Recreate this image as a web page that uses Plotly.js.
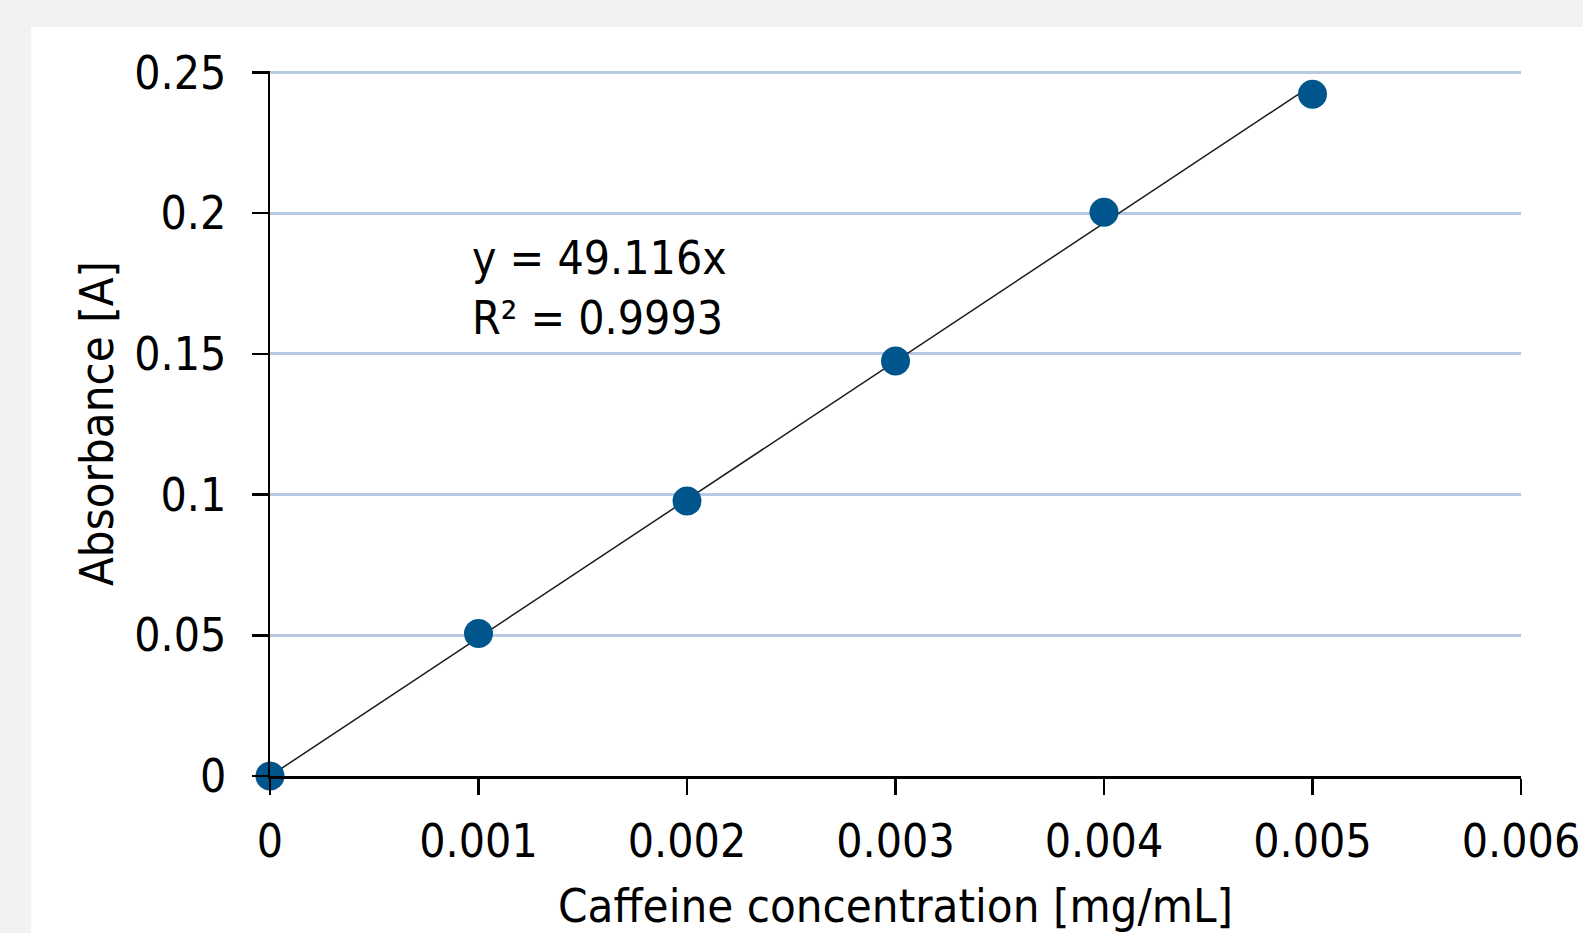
<!DOCTYPE html>
<html>
<head>
<meta charset="utf-8">
<script src="https://cdn.plot.ly/plotly-3.0.1.min.js"></script>
<style>
  html, body { margin: 0; padding: 0; background: #f2f2f2; }
  #chart { width: 1583px; height: 933px; }
</style>
</head>
<body>
<div id="chart"></div>
<script>
// Data
const concentration = [0, 0.001, 0.002, 0.003, 0.004, 0.005];
const absorbance = [0, 0.0506, 0.0977, 0.1475, 0.2003, 0.2422];
const slope = 49.116;
const trendX = [0, 0.005];
const xTicks = [0, 0.001, 0.002, 0.003, 0.004, 0.005, 0.006];
const xTickLabels = ['0', '0.001', '0.002', '0.003', '0.004', '0.005', '0.006'];
const yTicks = [0, 0.05, 0.1, 0.15, 0.2, 0.25];
const yTickLabels = ['0', '0.05', '0.1', '0.15', '0.2', '0.25'];
const equationText = 'y = 49.116x<br>R² = 0.9993';

const FONT = "'DejaVu Sans Condensed', 'Liberation Sans Narrow', sans-serif";

const trendY = trendX.map(v => slope * v);

const traces = [
  {
    x: trendX, y: trendY, type: 'scatter', mode: 'lines',
    line: { color: '#1a1a1a', width: 1.5 },
    hoverinfo: 'skip', showlegend: false, cliponaxis: false
  },
  {
    x: concentration, y: absorbance, type: 'scatter', mode: 'markers',
    marker: { color: '#00558c', size: 29 },
    showlegend: false, cliponaxis: false
  }
];

const layout = {
  width: 1583, height: 933,
  paper_bgcolor: '#f2f2f2',
  plot_bgcolor: 'rgba(0,0,0,0)',
  margin: { l: 270, r: 62, t: 71, b: 157, pad: 0 },
  font: { family: FONT, color: '#000000', size: 46 },
  showlegend: false,
  xaxis: {
    range: [0, 0.006 + 1e-8], tickvals: xTicks, ticktext: xTickLabels,
    showgrid: false, zeroline: false,
    showline: true, linecolor: '#000000', linewidth: 2.5,
    ticks: 'outside', ticklen: 16, tickwidth: 2.5, tickcolor: '#000000',
    tickfont: { family: FONT, size: 46, color: '#000000' },
    ticklabelstandoff: 7,
    title: { text: 'Caffeine concentration [mg/mL]', font: { family: FONT, size: 47, color: '#000000' }, standoff: 46 },
    automargin: false, fixedrange: true
  },
  yaxis: {
    range: [0, 0.2505], tickvals: yTicks, ticktext: yTickLabels,
    showgrid: true, gridcolor: '#b8c9e3', gridwidth: 3,
    zeroline: false,
    showline: true, linecolor: '#000000', linewidth: 2.5,
    ticks: 'outside', ticklen: 16, tickwidth: 2.5, tickcolor: '#000000',
    tickfont: { family: FONT, size: 46, color: '#000000' },
    ticklabelstandoff: 16,
    title: { text: 'Absorbance [A]', font: { family: FONT, size: 47, color: '#000000' }, standoff: 6 },
    automargin: false, fixedrange: true
  },
  shapes: [
    {
      type: 'rect', xref: 'paper', yref: 'paper', layer: 'below',
      x0: -0.1909, x1: 1.1, y0: -0.5, y1: 1.0625,
      fillcolor: '#ffffff', line: { width: 0 }
    }
  ],
  annotations: [
    {
      text: equationText, xref: 'x', yref: 'y', x: 0.00096, y: 0.1733,
      xanchor: 'left', yanchor: 'middle', align: 'left', showarrow: false,
      font: { family: FONT, size: 46, color: '#000000' }
    }
  ]
};

Plotly.newPlot('chart', traces, layout, { displayModeBar: false, staticPlot: true });
</script>
</body>
</html>
